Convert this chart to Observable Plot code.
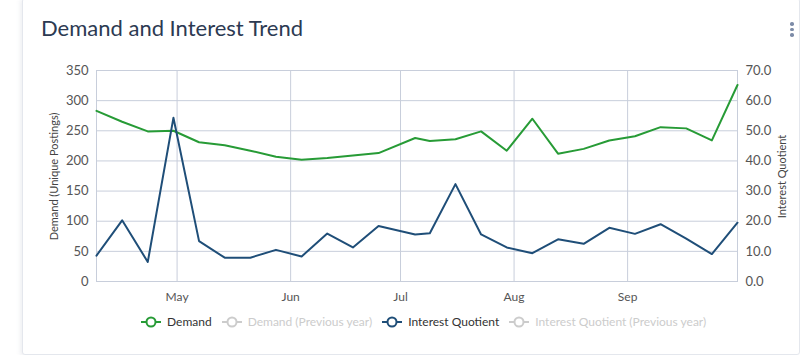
<!DOCTYPE html>
<html>
<head>
<meta charset="utf-8">
<script src="https://cdn.jsdelivr.net/npm/d3@7"></script>
<script src="https://cdn.jsdelivr.net/npm/@observablehq/plot@0.6"></script>
<style>
  html, body { margin: 0; padding: 0; background: #fff; font-family: Lato, "Open Sans", sans-serif; }
  #wrap { position: relative; width: 800px; height: 355px; overflow: hidden; background: #fff; }
  #card { position: absolute; left: 22px; top: -2px; width: 776px; height: 355px; border: 1px solid #e4e7ed; border-radius: 3px; box-shadow: -2px 1px 4px rgba(120,130,160,0.12); background: #fff; }
  #title { position: absolute; left: 41px; top: 15px; font-size: 22px; line-height: 26px; color: #2c3a52; white-space: nowrap; }
  #kebab { position: absolute; left: 790px; top: 22px; width: 4px; }
  #kebab span { display: block; width: 3.5px; height: 3.5px; border-radius: 50%; background: #7d8ca8; margin-bottom: 2px; }
  #chart { position: absolute; left: 0; top: 55px; }
  .ytitle { position: absolute; font-size: 11px; color: #444; white-space: nowrap; transform-origin: center center; }
  #legend { position: absolute; top: 314px; left: 141px; display: flex; align-items: center; font-size: 12px; white-space: nowrap; }
  .item { display: flex; align-items: center; margin-right: 10px; }
  .item svg { margin-right: 6px; }
</style>
</head>
<body>
<div id="wrap">
  <div id="card"></div>
  <div id="title">Demand and Interest Trend</div>
  <div id="kebab"><span></span><span></span><span></span></div>
  <div id="chart"></div>
  <div class="ytitle" id="ylLeft">Demand (Unique Postings)</div>
  <div class="ytitle" id="ylRight">Interest Quotient</div>
  <div id="legend"></div>
</div>
<script>
// ---- data ----
const dates = ["2023-04-09","2023-04-16","2023-04-23","2023-04-30","2023-05-07","2023-05-14","2023-05-21","2023-05-28","2023-06-04","2023-06-11","2023-06-18","2023-06-25","2023-07-05","2023-07-09","2023-07-16","2023-07-23","2023-07-30","2023-08-06","2023-08-13","2023-08-20","2023-08-27","2023-09-03","2023-09-10","2023-09-17","2023-09-24","2023-10-01"];
const demand = [283,265,249,250,231,226,217,207,202,205,209,213,238,233,236,249,217,270,212,220,234,241,256,254,234,326];
const interest = [8.6,20.3,6.5,54.3,13.4,7.9,7.9,10.5,8.3,15.9,11.3,18.4,15.6,16.0,32.3,15.6,11.3,9.4,14.0,12.5,17.8,15.8,19.0,14.2,9.1,19.5];
const leftTicks = [0,50,100,150,200,250,300,350];
const rightTicks = [0,10,20,30,40,50,60,70];
const monthTicks = ["2023-05-01","2023-06-01","2023-07-01","2023-08-01","2023-09-01"];
const legendItems = [
  {name: "Demand", color: "#279b36", text: "#333", active: true},
  {name: "Demand (Previous year)", color: "#cccccc", text: "#cccccc", active: false},
  {name: "Interest Quotient", color: "#1f4e78", text: "#333", active: true},
  {name: "Interest Quotient (Previous year)", color: "#cccccc", text: "#cccccc", active: false}
];

const GREEN = "#279b36";
const BLUE = "#1f4e78";
const GRID = "#c8cedb";
const ratio = 350 / 70;

const parse = d3.utcParse("%Y-%m-%d");
const data = dates.map((d, i) => ({date: parse(d), demand: demand[i], interest: interest[i]}));
const months = monthTicks.map(parse);

const chart = Plot.plot({
  width: 800,
  height: 250,
  marginLeft: 96,
  marginRight: 63,
  marginTop: 15,
  marginBottom: 24,
  style: {fontFamily: "Lato, sans-serif", fontSize: "13px", color: "#555", background: "transparent"},
  x: {type: "utc", domain: [data[0].date, data[data.length - 1].date]},
  y: {domain: [0, 350]},
  marks: [
    Plot.gridY(leftTicks, {stroke: GRID, strokeOpacity: 1}),
    Plot.gridX(months, {stroke: GRID, strokeOpacity: 1}),
    Plot.frame({stroke: GRID}),
    Plot.axisY(leftTicks, {anchor: "left", tickSize: 0, tickPadding: 8, label: null, fontSize: 13}),
    Plot.axisY(rightTicks.map(v => v * ratio), {anchor: "right", tickSize: 0, tickPadding: 8, label: null, fontSize: 13, tickFormat: d => (d / ratio).toFixed(1)}),
    Plot.axisX(months, {anchor: "bottom", tickSize: 0, tickPadding: 11, label: null, fontSize: 12, tickFormat: d3.utcFormat("%b")}),
    Plot.lineY(data, {x: "date", y: "demand", stroke: GREEN, strokeWidth: 2}),
    Plot.lineY(data, {x: "date", y: d => d.interest * ratio, stroke: BLUE, strokeWidth: 2})
  ]
});
document.getElementById("chart").appendChild(chart);

// axis titles
function placeTitle(id, cx, cy) {
  const el = document.getElementById(id);
  const w = el.offsetWidth, h = el.offsetHeight;
  el.style.left = (cx - w / 2) + "px";
  el.style.top = (cy - h / 2) + "px";
  el.style.transform = "rotate(-90deg)";
}
placeTitle("ylLeft", 54, 176);
placeTitle("ylRight", 781, 176);

// legend
const legend = document.getElementById("legend");
for (const it of legendItems) {
  const item = document.createElement("div");
  item.className = "item";
  item.innerHTML = `<svg width="20" height="12"><line x1="0" x2="20" y1="6" y2="6" stroke="${it.color}" stroke-width="2"/><circle cx="10" cy="6" r="4.5" fill="#fff" stroke="${it.color}" stroke-width="2"/></svg><span style="color:${it.text}">${it.name}</span>`;
  legend.appendChild(item);
}
</script>
</body>
</html>
